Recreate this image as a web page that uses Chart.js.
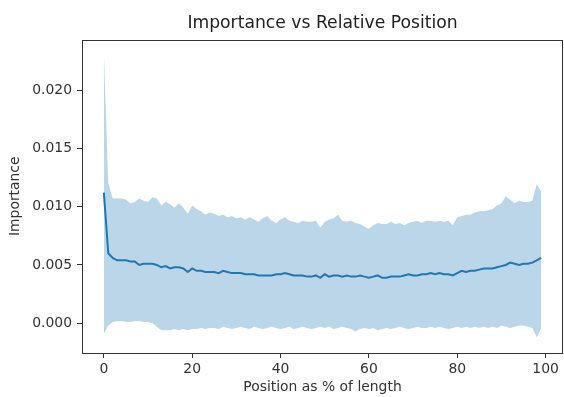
<!DOCTYPE html>
<html>
<head>
<meta charset="utf-8">
<script src="https://cdn.jsdelivr.net/npm/chart.js@4"></script>
<style>
  body { margin: 0; background: #fff; }
</style>
</head>
<body>
<canvas id="chart" width="564" height="397"></canvas>
<script>
const chartTitle = "Importance vs Relative Position";
const xTicks = [0, 20, 40, 60, 80, 100];
const yTicks = [0, 0.005, 0.01, 0.015, 0.02];

const meanImp = [
  0.0112, 0.0060, 0.0056, 0.0054, 0.0054, 0.0054, 0.0053, 0.0053, 0.0050, 0.0051,
  0.0051, 0.0051, 0.0050, 0.0048, 0.0049, 0.0047, 0.0048, 0.0048, 0.0047, 0.0044,
  0.0047, 0.0045, 0.0045, 0.0044, 0.0044, 0.0044, 0.0043, 0.0045, 0.0044, 0.0043,
  0.0043, 0.0043, 0.0042, 0.0042, 0.0042, 0.0041, 0.0041, 0.0041, 0.0041, 0.0042,
  0.0042, 0.0043, 0.0042, 0.0041, 0.0041, 0.0041, 0.0040, 0.0040, 0.0041, 0.0039,
  0.0042, 0.0040, 0.0041, 0.0041, 0.0040, 0.0041, 0.0040, 0.0040, 0.0041, 0.0040,
  0.0039, 0.0040, 0.0041, 0.0039, 0.0039, 0.0040, 0.0040, 0.0040, 0.0041, 0.0042,
  0.0041, 0.0041, 0.0042, 0.0042, 0.0043, 0.0042, 0.0043, 0.0042, 0.0042, 0.0041,
  0.0043, 0.0045, 0.0044, 0.0045, 0.0045, 0.0046, 0.0047, 0.0047, 0.0047, 0.0048,
  0.0049, 0.0050, 0.0052, 0.0051, 0.0050, 0.0051, 0.0051, 0.0052, 0.0054, 0.0056
];
const upperImp = [
  0.0232, 0.0120, 0.0107, 0.0107, 0.0107, 0.0106, 0.0103, 0.0104, 0.0107, 0.0105,
  0.0104, 0.0108, 0.0107, 0.0101, 0.0104, 0.0102, 0.0099, 0.0103, 0.0099, 0.0094,
  0.0101, 0.0098, 0.0096, 0.0093, 0.0095, 0.0094, 0.0092, 0.0093, 0.0091, 0.0092,
  0.0090, 0.0091, 0.0089, 0.0091, 0.0089, 0.0087, 0.0090, 0.0092, 0.0088, 0.0086,
  0.0089, 0.0091, 0.0088, 0.0087, 0.0086, 0.0088, 0.0087, 0.0087, 0.0088, 0.0082,
  0.0087, 0.0089, 0.0090, 0.0093, 0.0088, 0.0087, 0.0088, 0.0086, 0.0085, 0.0083,
  0.0081, 0.0084, 0.0086, 0.0085, 0.0085, 0.0087, 0.0085, 0.0086, 0.0084, 0.0086,
  0.0087, 0.0088, 0.0086, 0.0088, 0.0088, 0.0087, 0.0088, 0.0087, 0.0088, 0.0084,
  0.0091, 0.0092, 0.0093, 0.0093, 0.0095, 0.0096, 0.0096, 0.0097, 0.0098, 0.0101,
  0.0103, 0.0109, 0.0106, 0.0103, 0.0105, 0.0104, 0.0104, 0.0105, 0.0119, 0.0113
];
const lowerImp = [
  -0.0009, -0.0002, 0.0001, 0.0002, 0.0002, 0.0001, 0.0001, 0.0002, 0.0002, 0.0001,
  0.0001, 0.0000, -0.0003, -0.0006, -0.0006, -0.0006, -0.0005, -0.0006, -0.0005, -0.0006,
  -0.0005, -0.0005, -0.0004, -0.0005, -0.0004, -0.0004, -0.0005, -0.0003, -0.0004, -0.0005,
  -0.0004, -0.0003, -0.0004, -0.0005, -0.0003, -0.0004, -0.0005, -0.0004, -0.0003, -0.0004,
  -0.0005, -0.0004, -0.0003, -0.0005, -0.0004, -0.0003, -0.0004, -0.0005, -0.0004, -0.0003,
  -0.0004, -0.0003, -0.0005, -0.0004, -0.0003, -0.0004, -0.0005, -0.0007, -0.0005, -0.0004,
  -0.0005, -0.0004, -0.0006, -0.0005, -0.0004, -0.0005, -0.0004, -0.0003, -0.0004, -0.0005,
  -0.0004, -0.0003, -0.0004, -0.0004, -0.0003, -0.0004, -0.0003, -0.0004, -0.0005, -0.0004,
  -0.0003, -0.0004, -0.0003, -0.0004, -0.0003, -0.0004, -0.0003, -0.0004, -0.0003, -0.0004,
  -0.0002, -0.0003, -0.0004, -0.0003, -0.0002, -0.0002, -0.0003, -0.0004, -0.0012, -0.0004
];
const positions = meanImp.map((v, i) => i);

const FONT = "'DejaVu Sans', sans-serif";
const INK = "#333";

const toPoints = (arr) => arr.map((v, i) => ({ x: positions[i], y: v }));

// matplotlib-style box round the plot area, title centred over the axes
const boxPlugin = {
  id: "box",
  afterDatasetsDraw(chart) {
    const { ctx, chartArea: a } = chart;
    ctx.save();
    ctx.strokeStyle = INK;
    ctx.lineWidth = 1;
    ctx.strokeRect(Math.round(a.left) + 0.5, Math.round(a.top) + 0.5,
      Math.round(a.right - a.left) - 1, Math.round(a.bottom - a.top) - 1);
    ctx.fillStyle = "#222";
    ctx.font = "17.2px " + FONT;
    ctx.textAlign = "center";
    ctx.textBaseline = "middle";
    ctx.fillText(chartTitle, (a.left + a.right) / 2, 23.5);
    ctx.restore();
  }
};

new Chart(document.getElementById("chart"), {
  type: "line",
  data: {
    datasets: [
      {
        label: "mean",
        data: toPoints(meanImp),
        borderColor: "#1f77b4",
        borderWidth: 2,
        pointRadius: 0,
        fill: false
      },
      {
        label: "upper",
        data: toPoints(upperImp),
        borderWidth: 0,
        borderColor: "rgba(0,0,0,0)",
        backgroundColor: "rgba(31,119,180,0.3)",
        pointRadius: 0,
        fill: "+1"
      },
      {
        label: "lower",
        data: toPoints(lowerImp),
        borderWidth: 0,
        borderColor: "rgba(0,0,0,0)",
        pointRadius: 0,
        fill: false
      }
    ]
  },
  options: {
    responsive: false,
    animation: false,
    layout: { padding: { left: 0, right: 1, top: 39.5, bottom: 0 } },
    plugins: {
      legend: { display: false },
      tooltip: { enabled: false },
      title: { display: false }
    },
    scales: {
      x: {
        type: "linear",
        min: -4.95,
        max: 103.95,
        afterBuildTicks: (s) => { s.ticks = xTicks.map((v) => ({ value: v })); },
        afterFit: (s) => { s.height = 44; },
        grid: { drawOnChartArea: false, tickLength: 5, color: INK },
        border: { display: false },
        ticks: { color: INK, padding: 3, maxRotation: 0, font: { family: FONT, size: 13.9 } },
        title: {
          display: true,
          text: "Position as % of length",
          color: INK,
          font: { family: FONT, size: 13.9 },
          padding: { top: 0, bottom: 1.7 }
        }
      },
      y: {
        min: -0.00255,
        max: 0.02433,
        afterBuildTicks: (s) => { s.ticks = yTicks.map((v) => ({ value: v })); },
        afterFit: (s) => { s.width = 82; },
        grid: { drawOnChartArea: false, tickLength: 5, color: INK },
        border: { display: false },
        ticks: {
          color: INK,
          padding: 5,
          font: { family: FONT, size: 13.9 },
          callback: (v) => v.toFixed(3)
        },
        title: {
          display: true,
          text: "Importance",
          color: INK,
          font: { family: FONT, size: 13.9 },
          padding: { top: 6.7, bottom: 0 }
        }
      }
    }
  },
  plugins: [boxPlugin]
});
</script>
</body>
</html>
